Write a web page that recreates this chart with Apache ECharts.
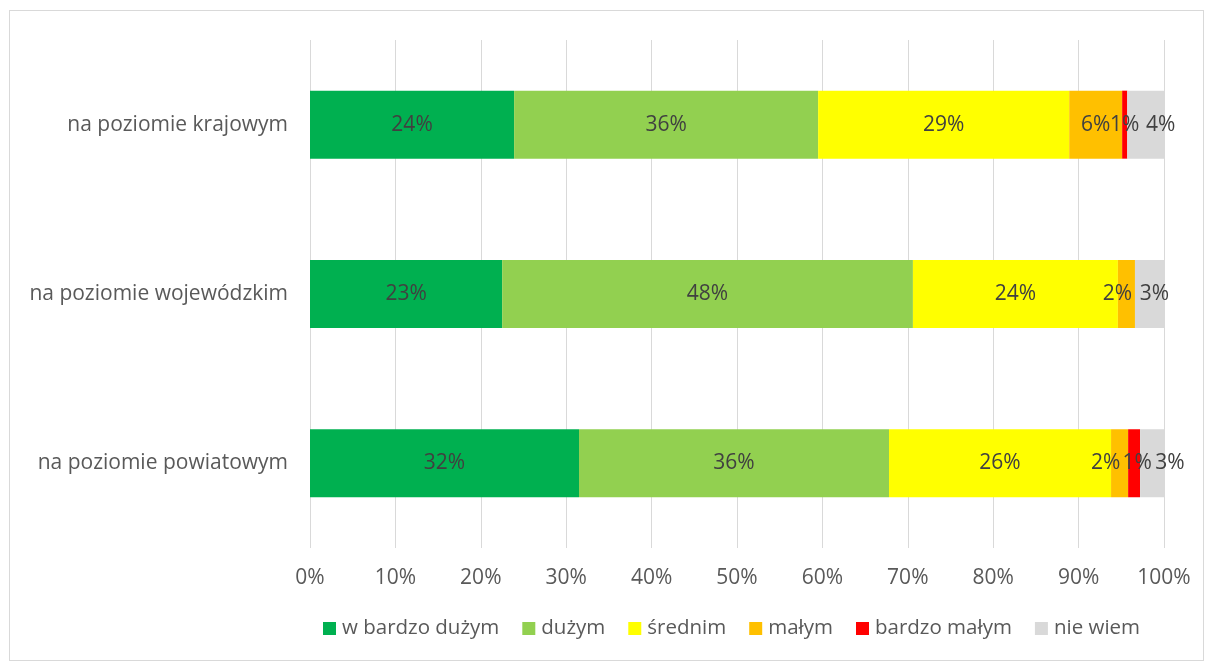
<!DOCTYPE html>
<html>
<head>
<meta charset="utf-8">
<script src="https://cdn.jsdelivr.net/npm/echarts@6/dist/echarts.min.js"></script>
<style>
  html, body { margin: 0; padding: 0; background: #fff; }
  #frame {
    position: absolute; left: 9px; top: 10px; width: 1195px; height: 651px;
    border: 1px solid #D9D9D9; box-sizing: border-box;
  }
  #chart { position: absolute; left: 0; top: 0; width: 1206px; height: 663px; }
</style>
</head>
<body>
<div id="frame"></div>
<div id="chart"></div>
<script>
// kategorie (od dołu do góry, jak na osi)
var categories = ["na poziomie powiatowym", "na poziomie wojewódzkim", "na poziomie krajowym"];
var seriesNames = ["w bardzo dużym", "dużym", "średnim", "małym", "bardzo małym", "nie wiem"];
var colors = ["#00B050", "#92D050", "#FFFF00", "#FFC000", "#FF0000", "#D9D9D9"];

// udziały w % (powiatowy, wojewódzki, krajowy)
var bardzoDuzym = [31.5, 22.5, 23.9];
var duzym = [36.3, 48.1, 35.6];
var srednim = [26.0, 24.0, 29.4];
var malym = [2.0, 2.0, 6.2];
var bardzoMalym = [1.4, 0, 0.6];
var nieWiem = [2.8, 3.4, 4.3];

var values = [bardzoDuzym, duzym, srednim, malym, bardzoMalym, nieWiem];

// przesunięcia etykiet małych segmentów (px), żeby na siebie nie nachodziły
var labelShift = {
  "małym": [-14, -9, 0],
  "bardzo małym": [3, 0, 0],
  "nie wiem": [18, 5, 15]
};

var font = "'Open Sans', 'Noto Sans', sans-serif";
var textColor = "#595959";

var chart = echarts.init(document.getElementById("chart"));
chart.setOption({
  animation: false,
  color: colors,
  grid: { left: 310, right: 42, top: 40, bottom: 115 },
  legend: {
    data: seriesNames,
    left: 318,
    top: 613,
    icon: "rect",
    itemWidth: 13,
    itemHeight: 13,
    itemGap: 23,
    textStyle: { color: textColor, fontSize: 20.5, fontFamily: font, padding: [0, 0, 0, 1] }
  },
  xAxis: {
    type: "value",
    min: 0,
    max: 100,
    interval: 10,
    axisLine: { show: false },
    axisTick: { show: false },
    splitLine: { lineStyle: { color: "#D9D9D9", width: 1 } },
    axisLabel: {
      color: textColor,
      fontSize: 21,
      fontFamily: font,
      margin: 20,
      formatter: function (v) { return v + "%"; }
    }
  },
  yAxis: {
    type: "category",
    data: categories,
    axisLine: { show: false },
    axisTick: { show: false },
    axisLabel: { color: textColor, fontSize: 21, fontFamily: font, margin: 22 }
  },
  series: seriesNames.map(function (name, i) {
    var shift = labelShift[name] || [0, 0, 0];
    return {
      name: name,
      type: "bar",
      stack: "total",
      barWidth: 68,
      data: values[i].map(function (v, j) {
        return { value: v, label: { offset: [shift[j], 0] } };
      }),
      label: {
        show: true,
        position: "inside",
        color: "#404040",
        fontSize: 21,
        fontFamily: font,
        formatter: function (p) { return p.value > 0 ? Math.round(p.value) + "%" : ""; }
      }
    };
  })
});
</script>
</body>
</html>
